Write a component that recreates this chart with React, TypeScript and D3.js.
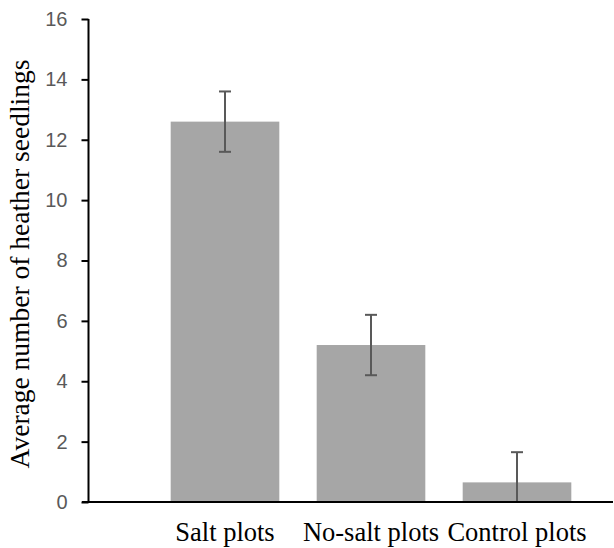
import { useEffect, useRef } from 'react';
import { scaleBand, scaleLinear, axisLeft, select } from 'd3';

const categories = ['Salt plots', 'No-salt plots', 'Control plots'];
const means = [12.6, 5.2, 0.65];
const errors = [1.0, 1.0, 1.0];
const yTicks = [0, 2, 4, 6, 8, 10, 12, 14, 16];

const W = 614;
const H = 548;
const left = 88.5;
const top = 19;
const bottom = 502;

const x = scaleBand<string>().domain(categories).range([152, 590]).paddingInner(0.256).paddingOuter(0.128);
const y = scaleLinear().domain([0, 16]).range([bottom, top]);

const YAxis = () => {
  const ref = useRef<SVGGElement>(null);
  useEffect(() => {
    if (!ref.current) return;
    const g = select(ref.current);
    g.call(axisLeft(y).tickValues(yTicks).tickSize(7).tickPadding(14));
    g.select('.domain').attr('d', `M0,${top}V${bottom}`).attr('stroke', '#000').attr('stroke-width', 2);
    g.selectAll('.tick line').attr('stroke', '#000').attr('stroke-width', 2);
    g.selectAll('.tick text')
      .attr('fill', '#595959')
      .attr('font-family', '"Liberation Sans", Arial, sans-serif')
      .attr('font-size', 20);
  });
  return <g ref={ref} transform={`translate(${left},0)`} />;
};

export default function App() {
  return (
    <svg width={W} height={H} style={{ position: 'absolute', left: 0, top: 0, background: '#fff' }}>
      {categories.map((c, i) => {
        const cx = (x(c) ?? 0) + x.bandwidth() / 2;
        const lo = Math.max(0, means[i] - errors[i]);
        const hi = means[i] + errors[i];
        return (
          <g key={c}>
            <rect x={x(c)} y={y(means[i])} width={x.bandwidth()} height={bottom - y(means[i])} fill="#a6a6a6" />
            <line x1={cx} x2={cx} y1={y(lo)} y2={y(hi)} stroke="#595959" strokeWidth={2} />
            <line x1={cx - 6} x2={cx + 6} y1={y(hi)} y2={y(hi)} stroke="#595959" strokeWidth={2} />
            {means[i] - errors[i] > 0 && (
              <line x1={cx - 6} x2={cx + 6} y1={y(lo)} y2={y(lo)} stroke="#595959" strokeWidth={2} />
            )}
            <text
              x={cx}
              y={541}
              textAnchor="middle"
              fontFamily='"Liberation Serif", "Times New Roman", serif'
              fontSize={26.5}
              fill="#000"
            >
              {c}
            </text>
          </g>
        );
      })}
      <line x1={82} x2={613} y1={bottom} y2={bottom} stroke="#000" strokeWidth={2} />
      <YAxis />
      <text
        transform="translate(29,264) rotate(-90)"
        textAnchor="middle"
        fontFamily='"Liberation Serif", "Times New Roman", serif'
        fontSize={27.5}
        fill="#000"
      >
        Average number of heather seedlings
      </text>
    </svg>
  );
}
